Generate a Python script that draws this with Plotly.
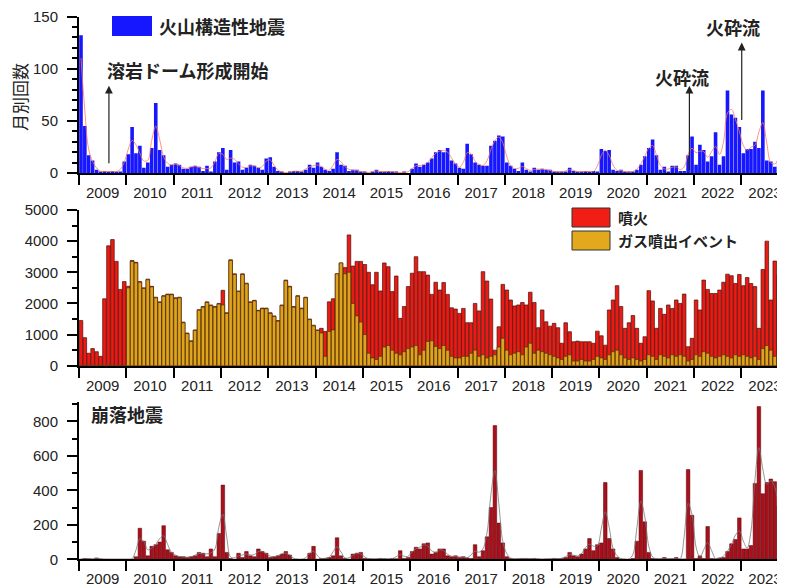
import pandas as pd
import plotly.graph_objects as go

# monthly counts, Jan 2009 - Dec 2023 (one row per year)
months = pd.date_range("2009-01-01", "2023-12-01", freq="MS")

# 火山構造性地震
vt_quakes = [
    132, 45, 17, 12, 3, 1, 2, 1, 2, 1, 1, 11,
    18, 44, 19, 26, 5, 10, 24, 67, 22, 17, 6, 8,
    9, 8, 4, 4, 6, 7, 6, 2, 7, 1, 11, 20,
    24, 3, 22, 10, 11, 3, 5, 8, 7, 5, 3, 14,
    15, 6, 2, 1, 0, 1, 2, 2, 1, 3, 8, 5,
    10, 6, 3, 2, 4, 20, 8, 7, 2, 3, 3, 1,
    1, 0, 1, 3, 1, 1, 2, 1, 1, 0, 1, 0,
    4, 9, 6, 8, 10, 14, 20, 22, 20, 24, 12, 9,
    5, 4, 28, 18, 10, 8, 7, 7, 26, 31, 36, 35,
    10, 7, 4, 2, 10, 3, 1, 5, 3, 4, 3, 3,
    1, 1, 1, 1, 5, 2, 1, 1, 2, 1, 2, 1,
    23, 21, 22, 3, 2, 3, 1, 1, 1, 3, 8, 16,
    24, 32, 17, 3, 6, 1, 7, 7, 2, 2, 17, 35,
    8, 27, 22, 11, 16, 39, 8, 16, 79, 56, 53, 44,
    19, 23, 23, 30, 24, 79, 12, 11, 6, 12, 24, 20,
]

# 噴火
eruptions = [
    1450, 900, 400, 550, 450, 300, 2150, 3850, 4050, 3350, 2450, 2700,
    2550, 3380, 3320, 2700, 2500, 2780, 2550, 2200, 2050, 2250, 2300, 2300,
    2180, 2200, 1400, 1050, 800, 1150, 1800, 1900, 2050, 1950, 1900, 2000,
    2420, 1700, 3400, 2950, 2400, 2950, 2650, 2050, 2100, 1780, 1850, 1850,
    1700, 1600, 1450, 1950, 2750, 2550, 1900, 2250, 1850, 2200, 1500, 1300,
    1150, 1200, 1100, 2050, 2150, 2950, 3300, 3150, 4200, 3200, 3350, 3350,
    3250, 3000, 2600, 3000, 2400, 3300, 3180, 2380, 2880, 1520, 1900, 2540,
    2970, 3500, 3020, 3020, 2910, 2290, 2680, 2430, 2670, 2290, 1860, 1820,
    1680, 1840, 1380, 1380, 2000, 1760, 3020, 2720, 2140, 500, 1250, 2610,
    2430, 2110, 1920, 1950, 2030, 1950, 2360, 2030, 1220, 1790, 1410, 1270,
    1360, 1220, 720, 1380, 1090, 770, 790, 770, 770, 770, 720, 1110,
    960, 660, 1790, 2110, 2570, 1900, 1200, 1380, 1610, 1200, 720, 930,
    2410, 2080, 1200, 1840, 1650, 1950, 1840, 2110, 2000, 2300, 610, 880,
    2110, 1790, 2750, 2450, 2320, 2320, 2430, 2680, 2940, 2890, 2640, 2930,
    2570, 2830, 2640, 2540, 1200, 3090, 4000, 2110, 3360, 2910, 2720, 2600,
]

# ガス噴出イベント
gas_events = [
    0, 0, 0, 0, 0, 0, 0, 0, 0, 0, 0, 0,
    2500, 3350, 3300, 2680, 2480, 2760, 2530, 2180, 2030, 2230, 2280, 2280,
    2160, 2180, 1380, 1030, 780, 1130, 1780, 1880, 2030, 1930, 1880, 1980,
    1950, 1680, 3380, 2930, 2380, 2930, 2630, 2030, 2080, 1760, 1830, 1830,
    1680, 1580, 1430, 1930, 2730, 2530, 1880, 2230, 1830, 2180, 1480, 1280,
    1130, 1050, 300, 1100, 1150, 2950, 3300, 2950, 3000, 2000, 1600, 1400,
    1000, 400, 250, 200, 300, 600, 650, 500, 400, 350, 450, 550,
    600, 650, 350, 500, 780, 800, 620, 550, 650, 500, 300, 250,
    250, 300, 300, 400, 500, 300, 350, 250, 300, 350, 600, 880,
    500, 350, 400, 450, 350, 600, 720, 400, 500, 450, 400, 350,
    300, 250, 200, 300, 350, 150, 150, 200, 150, 150, 200, 300,
    250, 200, 350, 450, 500, 350, 250, 200, 250, 200, 150, 200,
    350, 300, 200, 350, 300, 250, 350, 300, 350, 300, 150, 200,
    350, 300, 450, 400, 300, 250, 300, 350, 300, 250, 350, 300,
    350, 300, 250, 300, 200, 550, 650, 500, 300, 350, 250, 300,
]

# 崩落地震
rockfall_quakes = [
    0, 5, 3, 0, 8, 2, 0, 0, 0, 0, 0, 0,
    0, 0, 15, 180, 105, 20, 75, 85, 100, 195, 55, 40,
    20, 15, 15, 10, 15, 20, 40, 35, 15, 60, 15, 150,
    430, 40, 5, 0, 35, 10, 45, 20, 15, 60, 45, 35,
    10, 15, 20, 30, 45, 25, 0, 0, 0, 0, 35, 75,
    0, 5, 5, 10, 20, 125, 20, 5, 0, 30, 35, 40,
    5, 3, 2, 2, 5, 3, 2, 5, 3, 50, 5, 10,
    45, 70, 60, 90, 95, 30, 40, 60, 60, 20, 15, 20,
    10, 15, 8, 5, 85, 15, 50, 130, 300, 775, 210, 95,
    15, 5, 2, 3, 5, 5, 3, 5, 2, 0, 2, 2,
    5, 3, 5, 10, 40, 20, 15, 30, 60, 120, 50, 85,
    95, 445, 120, 60, 10, 2, 0, 0, 5, 105, 515, 217,
    40, 5, 3, 2, 10, 2, 3, 10, 2, 2, 520, 255,
    5, 20, 5, 190, 5, 3, 8, 10, 45, 90, 115, 240,
    60, 60, 80, 440, 885, 380, 445, 465, 450, 310, 140, 100,
]

# the page body keeps its 8px margin, so the figure is drawn 8px in from the window corner
OFF = 8
W, H = 785 - OFF, 588 - OFF
JP = "Noto Sans CJK JP"
NUM = "Arial, Liberation Sans, sans-serif"


def px_x(p):
    return (p - OFF) / W


def px_y(p):
    return 1 - (p - OFF) / H


def smooth(values):
    # 1-2-1 running mean drawn over the bars
    s = pd.Series(values, dtype=float)
    return ((s.shift(1).fillna(s) + 2 * s + s.shift(-1).fillna(s)) / 4).tolist()


fig = go.Figure()
bar_kw = dict(xperiod="M1", xperiodalignment="middle")

fig.add_trace(go.Bar(x=months, y=vt_quakes, marker=dict(color="#1616ff", line_width=0),
                     xaxis="x", yaxis="y", **bar_kw))
fig.add_trace(go.Scatter(x=months, y=smooth(vt_quakes), mode="lines", line=dict(color="#ff7a5a", width=0.8, shape="spline"),
                         xaxis="x", yaxis="y", **bar_kw))

fig.add_trace(go.Bar(x=months, y=eruptions, marker=dict(color="#ec1a14", line=dict(color="#4a1008", width=0.7)),
                     xaxis="x2", yaxis="y2", **bar_kw))
fig.add_trace(go.Bar(x=months, y=gas_events, marker=dict(color="#dfa41c", line=dict(color="#4a3008", width=0.7)),
                     xaxis="x2", yaxis="y2", **bar_kw))

fig.add_trace(go.Bar(x=months, y=rockfall_quakes, marker=dict(color="#a8101c", line=dict(color="#5a0008", width=0.5)),
                     xaxis="x3", yaxis="y3", **bar_kw))
fig.add_trace(go.Scatter(x=months, y=smooth(rockfall_quakes), mode="lines", line=dict(color="#777777", width=0.8, shape="spline"),
                         xaxis="x3", yaxis="y3", **bar_kw))

x_common = dict(
    type="date", range=["2009-01-01", "2023-12-04"], dtick="M12", tick0="2009-01-01",
    tickformat="%Y", ticklabelmode="period", ticks="outside", ticklen=10, tickwidth=2,
    tickcolor="black", showline=True, linecolor="black", linewidth=2, showgrid=False,
    zeroline=False, tickfont=dict(family=NUM, size=15, color="#222"), ticklabelstandoff=-5,
    ticklabeloverflow="allow", domain=[px_x(79), 1], automargin=False,
)
y_common = dict(
    ticks="outside", ticklen=10, tickwidth=2, tickcolor="black", showline=True,
    linecolor="black", linewidth=2, showgrid=False, zeroline=False,
    tickfont=dict(family=NUM, size=15, color="#222"), ticklabelstandoff=6,
    ticklabeloverflow="allow", automargin=False,
)

fig.update_layout(
    width=W, height=H, margin=dict(l=0, r=0, t=0, b=0),
    paper_bgcolor="white", plot_bgcolor="white",
    barmode="overlay", bargap=0.06, showlegend=False,
    xaxis=dict(anchor="y", **x_common),
    xaxis2=dict(anchor="y2", **x_common),
    xaxis3=dict(anchor="y3", **x_common),
    yaxis=dict(anchor="x", domain=[px_y(173), px_y(16.5)], range=[0, 150], dtick=50,
               minor=dict(ticks="outside", dtick=10, ticklen=5, tickwidth=1.5, tickcolor="black"), **y_common),
    yaxis2=dict(anchor="x2", domain=[px_y(365.7), px_y(210)], range=[0, 5000], dtick=1000,
                minor=dict(ticks="outside", dtick=500, ticklen=5, tickwidth=1.5, tickcolor="black"), **y_common),
    yaxis3=dict(anchor="x3", domain=[px_y(559.3), px_y(402.3)], range=[0, 910], dtick=200,
                minor=dict(ticks="outside", dtick=100, ticklen=5, tickwidth=1.5, tickcolor="black"), **y_common),
)

# legend swatches
fig.add_shape(type="rect", xref="paper", yref="paper", x0=px_x(112), x1=px_x(152), y0=px_y(36), y1=px_y(16),
              fillcolor="#1616ff", line_width=0)
fig.add_shape(type="rect", xref="paper", yref="paper", x0=px_x(572), x1=px_x(610), y0=px_y(227), y1=px_y(208),
              fillcolor="#f01e14", line=dict(color="#333", width=1))
fig.add_shape(type="rect", xref="paper", yref="paper", x0=px_x(572), x1=px_x(610), y0=px_y(250), y1=px_y(231),
              fillcolor="#e2a91e", line=dict(color="#333", width=1))


def label(text, x, y, size, anchor="left", angle=0, weight="bold"):
    fig.add_annotation(text=text, xref="paper", yref="paper", x=px_x(x), y=px_y(y), xanchor=anchor,
                       yanchor="middle", showarrow=False, textangle=angle,
                       font=dict(family=JP, size=size, color="#222", weight=weight))


label("火山構造性地震", 157, 26, 18)
label("噴火", 616, 217.5, 15)
label("ガス噴出イベント", 616, 240.5, 15)
label("崩落地震", 89, 414, 18)
label("月別回数", 19, 97, 17, "center", -90, "normal")
label("溶岩ドーム形成開始", 187, 70, 18, "center")
label("火砕流", 682, 77, 18, "center")
label("火砕流", 733, 27, 18, "center")


def arrow(date, head, tail_px):
    fig.add_annotation(x=date, y=head, xref="x", yref="y", text="", showarrow=True, ax=0, ay=tail_px,
                       arrowhead=2, arrowsize=1.3, arrowwidth=1.2, arrowcolor="#222", standoff=0)


arrow("2009-08-20", 83.6, 79)
arrow("2021-11-26", 83.7, 86)
arrow("2023-01-04", 125, 79)

fig.write_html("out.html")
